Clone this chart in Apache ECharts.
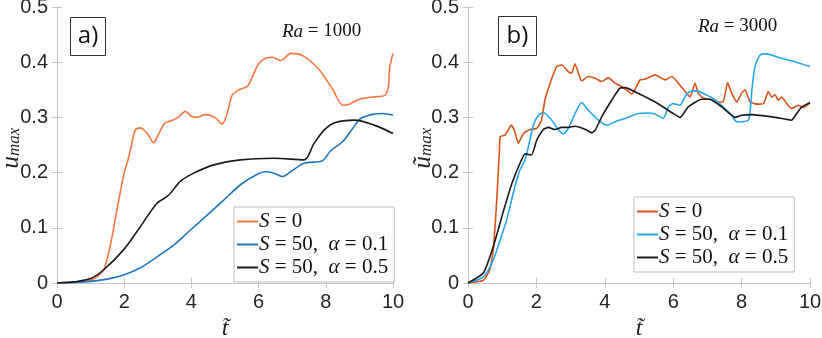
<!DOCTYPE html>
<html>
<head>
<meta charset="utf-8">
<script src="https://cdn.jsdelivr.net/npm/echarts@6/dist/echarts.min.js"></script>
<style>
  html, body { margin: 0; padding: 0; background: #fff; }
  #chart { width: 822px; height: 338px; }
</style>
</head>
<body>
<div id="chart"></div>
<script>
// panel a) Ra = 1000
const tA0 = [0, 0.5, 1.0, 1.2, 1.4, 1.6, 1.8, 2.0, 2.1, 2.2, 2.33, 2.48, 2.63, 2.75, 2.87, 3.0, 3.2, 3.4, 3.6, 3.82, 4.0, 4.16, 4.42, 4.7, 4.91, 5.06, 5.21, 5.41, 5.66, 5.81, 6.01, 6.21, 6.41, 6.66, 6.96, 7.31, 7.81, 8.21, 8.51, 8.7, 9.0, 9.4, 9.75, 9.86, 9.9, 10];
const uA0 = [0, 0.001, 0.005, 0.012, 0.025, 0.072, 0.138, 0.2, 0.22, 0.245, 0.277, 0.281, 0.275, 0.265, 0.254, 0.267, 0.289, 0.294, 0.3, 0.311, 0.302, 0.3, 0.305, 0.3, 0.288, 0.306, 0.34, 0.35, 0.356, 0.373, 0.398, 0.407, 0.409, 0.403, 0.416, 0.412, 0.386, 0.35, 0.322, 0.324, 0.333, 0.337, 0.34, 0.355, 0.39, 0.416];

const tA1 = [0, 0.5, 1.0, 1.5, 1.98, 2.5, 2.97, 3.5, 3.97, 4.47, 4.96, 5.46, 5.96, 6.21, 6.46, 6.71, 6.96, 7.35, 7.9, 8.15, 8.5, 8.8, 9.04, 9.44, 9.7, 10];
const uA1 = [0, 0.001, 0.003, 0.007, 0.0145, 0.028, 0.047, 0.07, 0.096, 0.123, 0.15, 0.178, 0.197, 0.2016, 0.199, 0.193, 0.202, 0.217, 0.2216, 0.24, 0.256, 0.28, 0.298, 0.306, 0.307, 0.304];

const tA2 = [0, 0.5, 1.0, 1.39, 1.98, 2.48, 2.97, 3.32, 3.67, 4.07, 4.67, 5.46, 6.46, 7.35, 7.65, 7.95, 8.25, 8.85, 9.44, 10];
const uA2 = [0, 0.002, 0.008, 0.024, 0.06, 0.102, 0.144, 0.159, 0.184, 0.199, 0.214, 0.223, 0.226, 0.223, 0.253, 0.277, 0.29, 0.295, 0.286, 0.271];

// panel b) Ra = 3000
const tB0 = [0, 0.45, 0.64, 0.74, 0.84, 0.92, 0.94, 1.08, 1.23, 1.27, 1.37, 1.47, 1.62, 1.81, 2.01, 2.15, 2.25, 2.4, 2.59, 2.74, 2.93, 3.03, 3.13, 3.23, 3.32, 3.52, 3.72, 3.91, 4.1, 4.3, 4.49, 4.69, 4.79, 4.88, 5.03, 5.17, 5.47, 5.76, 5.96, 6.15, 6.35, 6.49, 6.64, 6.73, 6.88, 7.13, 7.32, 7.46, 7.59, 7.71, 7.86, 8.0, 8.1, 8.25, 8.44, 8.64, 8.78, 8.88, 8.98, 9.07, 9.17, 9.32, 9.46, 9.66, 9.8, 10];
const uB0 = [0, 0.005, 0.024, 0.06, 0.15, 0.241, 0.265, 0.268, 0.283, 0.286, 0.274, 0.253, 0.271, 0.278, 0.28, 0.295, 0.332, 0.362, 0.392, 0.395, 0.383, 0.38, 0.397, 0.38, 0.366, 0.374, 0.371, 0.365, 0.372, 0.362, 0.356, 0.347, 0.342, 0.35, 0.368, 0.369, 0.377, 0.368, 0.374, 0.362, 0.347, 0.337, 0.362, 0.344, 0.335, 0.332, 0.328, 0.328, 0.363, 0.344, 0.328, 0.344, 0.35, 0.328, 0.324, 0.325, 0.347, 0.337, 0.341, 0.331, 0.337, 0.325, 0.316, 0.322, 0.318, 0.326];

const tB1 = [0, 0.45, 0.74, 0.94, 1.13, 1.32, 1.52, 1.67, 1.81, 1.91, 2.06, 2.2, 2.45, 2.64, 2.79, 2.93, 3.13, 3.32, 3.52, 3.81, 4.05, 4.3, 4.59, 4.98, 5.27, 5.47, 5.71, 5.86, 6.0, 6.2, 6.35, 6.49, 6.69, 6.93, 7.22, 7.51, 7.71, 7.86, 8.2, 8.3, 8.39, 8.54, 8.73, 9.17, 9.56, 10];
const uB1 = [0, 0.011, 0.042, 0.078, 0.114, 0.162, 0.205, 0.223, 0.259, 0.286, 0.304, 0.309, 0.295, 0.278, 0.27, 0.28, 0.307, 0.327, 0.313, 0.295, 0.286, 0.292, 0.298, 0.307, 0.308, 0.306, 0.298, 0.319, 0.325, 0.322, 0.338, 0.347, 0.348, 0.342, 0.332, 0.316, 0.304, 0.292, 0.295, 0.35, 0.392, 0.413, 0.415, 0.407, 0.401, 0.392];

const tB2 = [0, 0.45, 0.74, 1.03, 1.28, 1.52, 1.67, 1.86, 2.01, 2.2, 2.35, 2.54, 2.74, 2.93, 3.13, 3.27, 3.47, 3.62, 3.72, 3.91, 4.2, 4.44, 4.59, 5.0, 5.5, 6.0, 6.2, 6.44, 6.83, 7.07, 7.42, 7.81, 8.0, 8.3, 8.98, 9.46, 9.61, 9.76, 10];
const uB2 = [0, 0.018, 0.066, 0.129, 0.18, 0.217, 0.234, 0.232, 0.259, 0.278, 0.282, 0.278, 0.282, 0.282, 0.284, 0.282, 0.277, 0.272, 0.277, 0.301, 0.331, 0.353, 0.354, 0.343, 0.327, 0.307, 0.3, 0.319, 0.333, 0.333, 0.319, 0.3, 0.304, 0.305, 0.3, 0.295, 0.307, 0.319, 0.327];

const xTicks = { min: 0, max: 10, interval: 2 };
const yTicks = { min: 0, max: 0.5, interval: 0.1 };

const legendLabels = ['{i|S} = 0', '{i|S} = 50,  {i|α} = 0.1', '{i|S} = 50,  {i|α} = 0.5'];

const pairs = (t, u) => t.map((x, i) => [x, u[i]]);

const boxColor = '#c4c4c4';
const tickFont = { fontFamily: 'Liberation Sans', fontSize: 20, color: '#262626' };
const serif = 'Liberation Serif';

function xAxes(gi) {
  return [
    {
      type: 'value', gridIndex: gi, ...xTicks, position: 'bottom',
      axisLine: { lineStyle: { color: boxColor } },
      axisTick: { inside: true, length: 5, lineStyle: { color: boxColor } },
      axisLabel: { ...tickFont, margin: 9 },
      splitLine: { show: false },
      name: 't\u0303', nameLocation: 'middle', nameGap: 29,
      nameTextStyle: { fontFamily: serif, fontStyle: 'italic', fontSize: 24, color: '#262626' }
    },
    {
      type: 'value', gridIndex: gi, ...xTicks, position: 'top',
      axisLine: { lineStyle: { color: boxColor } },
      axisTick: { inside: true, length: 5, lineStyle: { color: boxColor } },
      axisLabel: { show: false }, splitLine: { show: false }
    }
  ];
}

function yAxes(gi) {
  return [
    {
      type: 'value', gridIndex: gi, ...yTicks, position: 'left',
      axisLine: { show: true, lineStyle: { color: boxColor } },
      axisTick: { show: true, inside: true, length: 5, lineStyle: { color: boxColor } },
      axisLabel: { ...tickFont, margin: 9 },
      splitLine: { show: false }
    },
    {
      type: 'value', gridIndex: gi, ...yTicks, position: 'right',
      axisLine: { show: true, lineStyle: { color: boxColor } },
      axisTick: { show: true, inside: true, length: 5, lineStyle: { color: boxColor } },
      axisLabel: { show: false }, splitLine: { show: false }
    }
  ];
}

// rotated y-axis title u_max, placed beside the tick labels
function yTitle(sym, x, y) {
  return {
    type: 'text', x, y, rotation: Math.PI / 2,
    style: {
      text: '{u|' + sym + '}{s|max}', align: 'center', verticalAlign: 'middle',
      rich: {
        u: { fontFamily: serif, fontStyle: 'italic', fontSize: 25, fill: '#262626' },
        s: { fontFamily: serif, fontStyle: 'italic', fontSize: 17, fill: '#262626', verticalAlign: 'bottom', padding: [8, 0, 0, 0] }
      }
    }
  };
}

function line(name, data, color, xi, yi, smooth) {
  return {
    name, type: 'line', data, xAxisIndex: xi, yAxisIndex: yi,
    symbol: 'none', smooth, lineStyle: { color, width: 1.6 }, itemStyle: { color },
    animation: false
  };
}

const legendRich = {
  i: { fontFamily: serif, fontStyle: 'italic', fontSize: 21, color: '#111' }
};

function legend(names, left, top) {
  return {
    orient: 'vertical', left, top, data: names,
    backgroundColor: '#fff', borderColor: '#bdbdbd', borderWidth: 1,
    padding: [4, 6, 4, 3], itemGap: 2, itemWidth: 21, itemHeight: 2,
    icon: 'rect',
    formatter: n => legendLabels[names.indexOf(n)],
    textStyle: { fontFamily: serif, fontSize: 21, lineHeight: 20, color: '#111', padding: [0, 0, 0, -4], rich: legendRich }
  };
}

function panelTag(label, x, y, w, h) {
  return {
    type: 'group', left: x, top: y,
    children: [
      { type: 'rect', shape: { x: 0, y: 0, width: w, height: h }, style: { fill: '#fff', stroke: '#333', lineWidth: 1 } },
      { type: 'text', x: w / 2, y: h / 2, style: { text: label, font: '24px "Open Sans"', fill: '#111', align: 'center', verticalAlign: 'middle' } }
    ]
  };
}

function raText(value, x, y) {
  return {
    type: 'text', left: x, top: y,
    style: {
      text: '{i|Ra} = ' + value,
      font: '19px "Liberation Serif"', fill: '#111',
      rich: { i: { fontFamily: serif, fontStyle: 'italic', fontSize: 19, fill: '#111' } }
    }
  };
}

const chart = echarts.init(document.getElementById('chart'));
chart.setOption({
  animation: false,
  grid: [
    { left: 57, top: 7, width: 336, height: 276, containLabel: false, outerBoundsMode: 'none' },
    { left: 468, top: 7, width: 342, height: 276, containLabel: false, outerBoundsMode: 'none' }
  ],
  xAxis: [...xAxes(0), ...xAxes(1)],
  yAxis: [...yAxes(0), ...yAxes(1)],
  legend: [
    legend(['a0', 'a1', 'a2'], 234, 207),
    legend(['b0', 'b1', 'b2'], 634, 197)
  ],
  series: [
    line('a0', pairs(tA0, uA0), '#f8773f', 0, 0, 0.3),
    line('a1', pairs(tA1, uA1), '#1f77c0', 0, 0, 0.3),
    line('a2', pairs(tA2, uA2), '#1a1a1a', 0, 0, 0.3),
    line('b0', pairs(tB0, uB0), '#d95319', 2, 2, 0.15),
    line('b1', pairs(tB1, uB1), '#27a6f0', 2, 2, 0.2),
    line('b2', pairs(tB2, uB2), '#1a1a1a', 2, 2, 0.15)
  ],
  graphic: [
    panelTag('a)', 70, 17, 35, 38),
    panelTag('b)', 498, 16, 38, 39),
    raText('1000', 282, 22),
    raText('3000', 698, 17),
    yTitle('u', 11, 148),
    yTitle('ũ', 423, 148)
  ]
});
</script>
</body>
</html>
